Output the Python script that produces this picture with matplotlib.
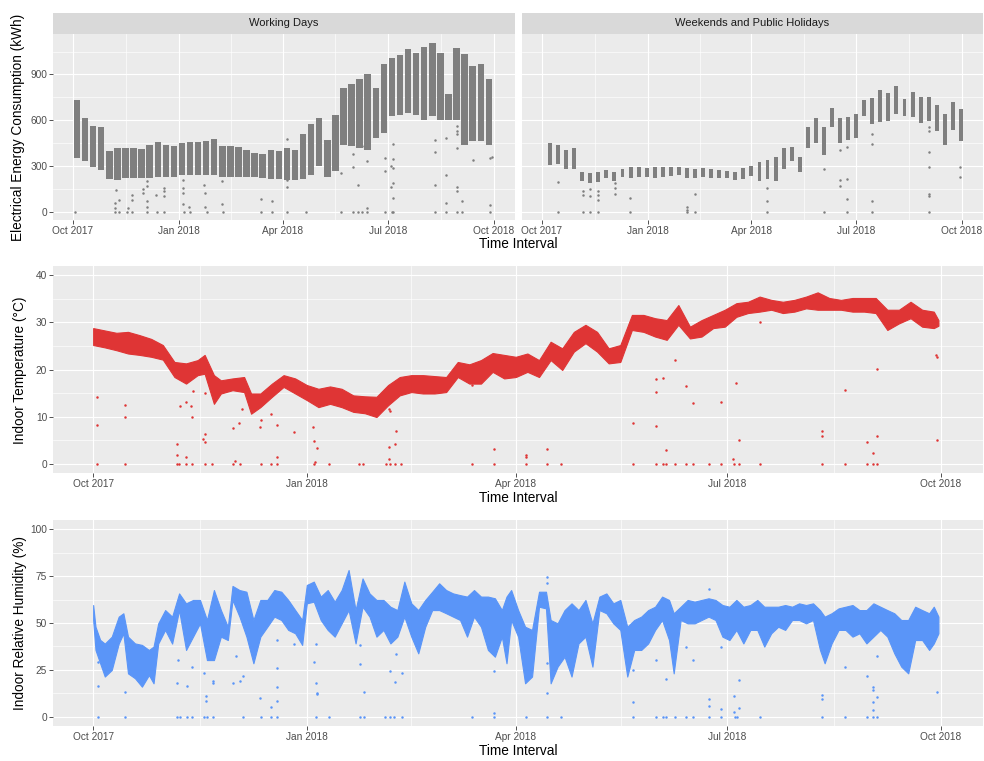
import numpy as np
import pandas as pd
import matplotlib
matplotlib.use('Agg')
import matplotlib.pyplot as plt
import matplotlib.dates as mdates
from matplotlib.patches import Rectangle

plt.rcParams['font.family'] = ['Liberation Sans', 'DejaVu Sans']

START = pd.Timestamp('2017-10-01')

# ---- electrical energy, working days: weekly [low, high] ranges (Mon-Fri) ----
work_week_start = pd.date_range('2017-10-02', periods=52, freq='7D')
work_low = [350, 330, 290, 275, 215, 210, 220, 220, 220, 220, 230, 230, 230,
            241, 241, 241, 241, 241, 230, 230, 224, 224, 224, 220, 215, 215,
            208, 204, 215, 241, 296, 230, 263, 439, 428, 417, 406, 483, 516,
            626, 637, 648, 637, 604, 626, 604, 604, 604, 439, 461, 461, 439]
work_high = [735, 615, 560, 555, 400, 420, 415, 420, 410, 440, 456, 439, 432,
             450, 456, 456, 465, 476, 428, 428, 421, 406, 384, 377, 406, 400,
             417, 406, 509, 575, 615, 472, 636, 812, 838, 871, 900, 812, 966,
             1010, 1027, 1065, 1043, 1080, 1108, 1043, 773, 1071, 1032, 955, 970, 867]
work_out_day = [1.5, 36.2, 36.2, 36.2, 37.3, 40.2, 40.2, 46.6, 47.5, 51.2, 51.2, 51.2,
                60.5, 61.0, 63.9, 63.9, 63.9, 63.9, 63.9, 72.0, 72.6, 78.7, 78.7, 78.7,
                78.7, 95.2, 95.2, 95.7, 95.7, 96.0, 100.9, 101.5, 113.9, 114.8, 114.3,
                116.0, 129.3, 129.3, 130.4, 163.1, 163.1, 172.4, 172.4,
                185.7, 185.7, 185.7, 185.7, 201.6, 232.0, 232.0, 242.4, 242.4, 242.4,
                246.7, 246.7, 250.2, 250.2, 255.1, 255.1, 255.1, 270.4, 270.4, 270.4,
                275.3, 275.3, 276.2, 277.7, 277.7, 277.7, 277.7, 277.7, 277.7,
                313.8, 313.8, 313.8, 313.8, 323.3, 323.3, 323.3, 323.3,
                332.6, 332.6, 332.6, 332.6, 332.6, 332.6, 332.6, 337.2, 337.2, 337.2,
                346.5, 361.5, 361.5, 361.5, 363.3]
work_out_val = [0, 22, 55, 0, 140, 77, 0, 0, 22, 110, 77, 0,
                121, 149, 198, 165, 66, 33, 0, 110, 0, 154, 132, 99,
                0, 209, 154, 121, 50, 0, 33, 0, 176, 119, 33,
                0, 198, 50, 0, 81, 0, 72, 0,
                478, 204, 158, 0, 0, 252, 0, 378, 290, 0,
                171, 0, 428, 0, 334, 22, 0, 351, 268, 0,
                296, 158, 0, 446, 347, 285, 187, 92, 0,
                472, 389, 171, 0, 483, 237, 59, 0,
                560, 531, 509, 417, 158, 132, 0, 450, 72, 0,
                336, 351, 40, 0, 356]

# ---- electrical energy, weekends: [low, high] per Sat-Sun ----
wkend_start = pd.date_range('2017-10-07', periods=52, freq='7D')
wkend_low = [305, 310, 280, 280, 202, 187, 195, 220, 202, 224, 220, 224, 224,
             220, 228, 235, 242, 220, 220, 228, 220, 220, 220, 207, 215,
             235, 202, 213, 198, 279, 334, 257, 417, 448, 373, 558, 448, 470, 483,
             630, 575, 586, 597, 641, 630, 619, 580, 597, 527, 439, 536, 465]
wkend_high = [450, 440, 404, 415, 257, 250, 261, 274, 261, 279, 290, 290, 283,
              294, 290, 290, 294, 283, 279, 285, 279, 274, 268, 261, 285,
              300, 323, 338, 360, 417, 426, 360, 558, 615, 558, 680, 615, 619, 641,
              733, 746, 795, 777, 821, 740, 784, 755, 755, 702, 641, 718, 674]
wkend_out_day = [13.6, 13.6, 35.9, 35.9, 35.9, 42.2, 42.2, 42.2, 48.3, 48.3, 48.3, 48.3,
                 63.3, 63.3, 63.3, 76.6, 76.6, 125.7, 125.7, 125.7, 132.7, 132.7,
                 195.4, 195.4, 195.4, 245.1, 245.1, 258.7, 258.7, 258.7,
                 265.1, 265.1, 265.1, 265.1, 286.7, 286.7, 286.7, 286.7,
                 336.1, 336.1, 336.1, 336.1, 336.1, 336.1, 336.1, 363.6, 363.6]
wkend_out_val = [196, 0, 132, 106, 0, 147, 101, 0, 132, 106, 75, 0,
                 185, 154, 112, 86, 0, 31, 13, 0, 112, 0,
                 154, 66, 0, 277, 0, 404, 207, 169,
                 422, 211, 84, 0, 507, 444, 70, 0,
                 553, 531, 393, 290, 114, 103, 0, 290, 224]

# ---- indoor temperature: band (days after 1 Oct 2017) ----
temp_day = [0, 5, 10, 15, 20, 25, 30, 35, 40, 45, 48, 52, 55, 60, 65, 68, 72, 77,
            82, 87, 92, 97, 102, 107, 112, 117, 122, 127, 132, 137, 142, 147, 152,
            157, 162, 167, 172, 177, 182, 187, 192, 197, 202, 207, 212, 217, 222,
            227, 232, 237, 242, 247, 252, 257, 262, 267, 272, 277, 282, 287, 292,
            297, 302, 307, 312, 317, 322, 327, 332, 337, 342, 347, 352, 357, 362, 364]
temp_high = [28.8, 28.3, 27.8, 28.0, 27.3, 26.5, 25.2, 21.6, 21.3, 22.0, 23.1, 18.8,
             17.7, 18.1, 18.4, 14.9, 14.9, 17.0, 18.8, 18.1, 16.7, 15.9, 16.4, 15.9,
             14.5, 14.3, 14.2, 16.7, 18.4, 18.8, 18.8, 18.6, 18.4, 21.6, 21.1, 22.0,
             23.5, 23.1, 22.7, 23.4, 22.0, 25.9, 24.5, 28.0, 29.5, 28.0, 24.5, 25.2,
             31.6, 31.6, 30.9, 30.5, 33.7, 29.1, 30.5, 31.6, 32.7, 34.1, 34.4, 35.5,
             34.8, 34.4, 34.8, 35.5, 36.4, 35.2, 34.8, 35.2, 35.2, 35.2, 32.7, 32.7,
             34.4, 32.7, 32.3, 30.5]
temp_low = [25.2, 24.7, 24.1, 23.4, 23.1, 22.7, 22.1, 18.4, 17.0, 18.8, 19.1, 12.7,
            14.9, 15.6, 15.2, 10.6, 12.0, 14.2, 16.3, 14.9, 13.5, 12.0, 12.7, 12.0,
            11.0, 10.7, 9.9, 12.4, 14.5, 15.2, 14.9, 14.9, 15.2, 18.4, 17.0, 17.0,
            19.5, 18.1, 18.4, 19.5, 18.4, 22.0, 19.9, 23.8, 25.6, 23.8, 21.3, 21.6,
            28.4, 28.0, 27.0, 26.3, 29.5, 26.6, 27.0, 28.8, 29.1, 31.2, 32.0, 32.3,
            32.7, 32.0, 32.3, 33.0, 32.7, 32.7, 32.7, 32.3, 32.3, 32.0, 28.4, 29.8,
            30.9, 29.1, 28.8, 29.3]
temp_out_day = [1.6, 1.6, 1.6, 13.5, 13.5, 13.5, 35.9, 36.2, 36.2, 37.0, 37.2, 40.0, 40.0,
                40.0, 42.0, 42.4, 42.4, 43.0, 48.0, 47.5, 48.0, 48.0, 48.0, 51.0,
                60.3, 60.3, 61.2, 63.0, 63.4, 64.1, 72.0, 72.3, 72.3, 76.6, 76.6, 79.0,
                79.0, 79.0, 86.4, 94.7, 95.3, 96.2, 95.7, 95.0, 101.7, 114.4, 116.2,
                126.0, 127.2, 127.2, 127.2, 127.7, 127.7, 130.0, 130.3, 130.0, 132.7,
                163.1, 163.1, 172.5, 172.5, 186.4, 186.4, 186.4, 195.4, 195.4, 201.6,
                232.4, 232.4, 242.3, 242.3, 242.3, 242.3, 245.3, 245.3, 246.8, 246.8,
                250.4, 250.4, 255.2, 255.2, 258.5, 258.5, 265.3, 270.3, 270.3, 275.5,
                276.0, 277.0, 278.0, 278.0, 287.0, 287.0, 314.0, 314.0, 314.0,
                323.6, 323.6, 333.1, 333.1, 336.0, 336.0, 337.4, 337.4, 337.4,
                363.0, 363.6, 363.6]
temp_out_val = [14.2, 8.3, 0, 12.4, 10.0, 0, 4.2, 1.9, 0, 0, 12.2, 13.1, 1.4,
                0, 12.2, 9.9, 0, 15.4, 15.0, 5.3, 4.6, 6.2, 0, 0,
                7.5, 0, 0.6, 8.6, 0, 11.5, 7.8, 9.2, 0, 10.6, 0, 8.2,
                1.4, 0, 6.7, 7.8, 4.9, 3.3, 0.4, 0, 0, 0, 0,
                0, 11.5, 3.6, 0.9, 11.2, 0, 4.1, 7.0, 0, 0,
                16.8, 0, 3.0, 0, 1.8, 1.4, 0, 3.1, 0, 0,
                8.7, 0, 17.9, 15.2, 8.0, 0, 18.1, 0, 2.9, 0,
                22.0, 0, 16.5, 0, 12.8, 0, 0, 13.1, 0, 0.9,
                0, 17.2, 5.1, 0, 30.2, 0, 7.0, 5.8, 0,
                15.6, 0, 4.6, 0, 2.2, 0, 20.2, 5.8, 0,
                23.1, 22.7, 5.1]

# ---- indoor relative humidity: band ----
hum_day = [0, 1, 3, 5, 8, 11, 13, 15, 18, 21, 24, 26, 28, 31, 34, 37, 40, 43, 46, 49,
           52, 55, 58, 60, 63, 66, 69, 72, 75, 78, 81, 84, 87, 90, 92, 95, 98, 101,
           104, 107, 110, 113, 116, 119, 122, 125, 128, 131, 134, 137, 140, 143, 146,
           149, 152, 155, 158, 161, 164, 167, 170, 173, 176, 178, 180, 183, 186, 189,
           192, 195, 197, 200, 203, 206, 209, 212, 215, 218, 221, 224, 227, 230, 233,
           236, 239, 242, 245, 248, 250, 253, 256, 259, 262, 265, 268, 271, 274, 277,
           280, 283, 286, 289, 292, 295, 298, 301, 304, 307, 310, 313, 315, 318, 321,
           324, 327, 330, 333, 336, 339, 342, 345, 348, 351, 354, 357, 360, 362, 364]
hum_high = [59.6, 48.0, 41.0, 39.0, 42.7, 53.4, 55.2, 42.7, 39.1, 38.3, 35.6, 37.4,
            49.8, 56.9, 53.4, 65.8, 60.5, 62.3, 62.3, 51.6, 67.6, 56.9, 48.0, 69.8,
            67.6, 66.7, 51.6, 62.3, 62.3, 67.6, 66.7, 62.3, 56.9, 51.6, 70.3, 72.1,
            64.1, 67.6, 61.4, 67.6, 78.3, 56.9, 73.8, 65.8, 62.3, 62.3, 58.7, 56.9,
            72.1, 60.5, 56.9, 62.3, 66.7, 71.2, 67.6, 65.8, 64.9, 64.1, 67.6, 64.1,
            64.1, 63.2, 56.9, 64.1, 67.6, 56.9, 48.0, 46.3, 66.7, 66.7, 51.6, 49.8,
            56.9, 60.5, 56.9, 62.3, 49.8, 64.1, 65.8, 60.5, 62.3, 48.0, 51.6, 53.4,
            56.9, 58.7, 64.1, 62.3, 55.2, 58.7, 62.3, 61.4, 62.3, 63.2, 62.3, 59.6,
            58.7, 62.3, 58.7, 59.6, 62.3, 58.7, 58.7, 58.7, 59.6, 58.7, 60.5, 59.6,
            60.5, 56.9, 53.4, 55.2, 57.8, 58.7, 59.6, 56.9, 56.9, 60.5, 58.7, 56.9,
            55.2, 51.6, 51.6, 58.7, 56.9, 55.2, 58.7, 53.4]
hum_low = [51.6, 35.6, 28.5, 21.4, 24.9, 39.0, 44.5, 23.1, 20.5, 16.0, 22.2, 17.8,
           39.0, 46.3, 39.0, 56.9, 35.6, 42.7, 49.8, 30.2, 30.2, 42.7, 40.9, 62.3,
           53.4, 42.7, 28.5, 42.7, 48.0, 53.4, 51.6, 46.3, 44.5, 38.3, 60.5, 61.4,
           51.6, 46.3, 42.7, 49.8, 56.9, 39.1, 58.7, 53.4, 42.7, 46.3, 39.1, 42.7,
           53.4, 42.7, 33.8, 48.0, 56.9, 56.9, 55.2, 53.4, 51.6, 42.7, 53.4, 48.0,
           35.6, 32.0, 42.7, 28.5, 51.6, 42.7, 17.8, 21.4, 58.7, 57.8, 17.8, 26.7,
           32.0, 21.4, 39.1, 42.7, 26.7, 56.9, 55.2, 49.8, 46.3, 21.4, 35.6, 35.6,
           39.1, 46.3, 51.6, 40.9, 23.1, 51.6, 49.8, 49.8, 51.6, 53.4, 51.6, 42.7,
           40.9, 46.3, 39.1, 46.3, 46.3, 37.4, 44.5, 48.0, 46.3, 51.6, 51.6, 49.8,
           51.6, 35.6, 28.5, 39.1, 46.3, 46.3, 42.7, 44.5, 39.1, 42.7, 46.3, 42.7,
           33.8, 26.7, 23.1, 40.9, 40.9, 35.6, 39.1, 44.5]
hum_out_day = [2.0, 2.1, 2.0, 13.6, 13.6, 36.0, 36.4, 36.0, 37.5, 40.5, 40.2, 42.6, 42.6,
               47.6, 48.8, 48.8, 47.9, 49.0, 51.5, 51.5, 51.5, 60.1, 61.3, 63.1, 64.4,
               64.4, 72.0, 72.3, 76.6, 76.6, 79.2, 79.2, 79.2, 79.2, 79.2, 86.4, 95.0,
               96.0, 96.4, 96.4, 96.1, 96.1, 101.7, 114.8, 114.8, 116.5, 114.8, 116.5,
               125.8, 127.7, 127.7, 127.7, 130.0, 130.5, 129.7, 133.0, 133.0, 163.1,
               172.5, 172.5, 172.5, 186.4, 195.4, 195.4, 195.4, 195.4, 195.4, 201.6,
               232.4, 232.4, 232.4, 242.3, 242.3, 245.3, 246.8, 246.8, 250.4, 255.2,
               255.2, 258.5, 258.5, 265.3, 265.3, 265.3, 265.3, 270.3, 270.3, 270.3,
               276.0, 276.0, 276.4, 277.4, 278.3, 278.3, 287.0, 314.0, 314.0, 314.0,
               323.6, 323.6, 333.1, 333.1, 336.0, 336.0, 336.0, 336.0, 336.0,
               337.4, 337.4, 337.4, 363.6]
hum_out_val = [29.0, 16.5, 0, 13.2, 0, 17.8, 30.0, 0, 0, 16.4, 0, 26.7, 0,
               23.1, 11.0, 8.4, 0, 0, 19.2, 17.8, 0, 18.1, 32.6, 19.2, 21.9,
               0, 9.8, 0, 5.0, 0, 25.8, 16.0, 8.5, 0, 40.9, 38.8, 29.4,
               18.1, 12.8, 12.1, 39.0, 0, 0, 38.3, 27.9, 13.3, 0, 0,
               0, 44.1, 24.6, 0, 18.3, 33.5, 0, 23.1, 0, 0,
               24.4, 1.8, 0, 0, 12.8, 0, 28.8, 74.7, 71.2, 0,
               8.0, 24.9, 0, 0, 30.2, 0, 0, 20.1, 0, 37.4,
               0, 30.2, 0, 9.3, 5.7, 0, 68.1, 3.9, 37.4, 0,
               11.2, 2.7, 0, 0, 19.6, 4.4, 0, 11.6, 9.4, 0,
               26.7, 0, 21.9, 0, 15.7, 14.2, 8.0, 3.6, 0,
               10.7, 32.4, 0, 13.3]

GREY = '#7F7F7F'
RED = '#DF3535'
BLUE = '#5A95F8'

W, H = 984, 761
fig = plt.figure(figsize=(W / 100, H / 100), dpi=100)


def add_ax(x0, y0, x1, y1):
    return fig.add_axes([x0 / W, 1 - y1 / H, (x1 - x0) / W, (y1 - y0) / H])


def days(d):
    return mdates.date2num(START + pd.to_timedelta(np.asarray(d, dtype=float), unit='D'))


major = mdates.date2num(pd.to_datetime(['2017-10-01', '2018-01-01', '2018-04-01',
                                        '2018-07-01', '2018-10-01']))
minor = (major[:-1] + major[1:]) / 2
xlim = days([-17.3, 383.2])


def style(ax, ylim, yticks, yminor, show_y=True):
    ax.set_facecolor('#EBEBEB')
    for s in ax.spines.values():
        s.set_visible(False)
    ax.set_xlim(*xlim)
    ax.set_ylim(*ylim)
    ax.set_xticks(major)
    ax.set_xticks(minor, minor=True)
    ax.set_xticklabels(['Oct 2017', 'Jan 2018', 'Apr 2018', 'Jul 2018', 'Oct 2018'])
    ax.set_yticks(yticks)
    ax.set_yticks(yminor, minor=True)
    ax.grid(which='major', color='white', lw=0.85)
    ax.grid(which='minor', color='white', lw=0.45)
    ax.set_axisbelow(True)
    ax.tick_params(which='major', length=2.7, width=0.6, color='#333333',
                   labelsize=7.3, labelcolor='#4D4D4D', pad=1.5)
    ax.tick_params(which='minor', length=0)
    if not show_y:
        ax.tick_params(axis='y', which='both', length=0, labelleft=False)


def strip(x0, x1, label):
    sax = add_ax(x0, 13, x1, 34)
    sax.set_xlim(0, 1)
    sax.set_ylim(0, 1)
    sax.axis('off')
    sax.add_patch(Rectangle((0, 0), 1, 1, color='#D9D9D9', transform=sax.transAxes))
    sax.text(0.5, 0.5, label, ha='center', va='center', fontsize=8, color='#1A1A1A')


# ---- top row: energy ----
e_ylim = (-55.5, 1165.5)
ax1 = add_ax(53, 34, 515, 220)
style(ax1, e_ylim, [0, 300, 600, 900], [150, 450, 750, 1050])
ws = mdates.date2num(work_week_start)
ax1.bar(ws + 2.5, np.subtract(work_high, work_low), bottom=work_low, width=5.6,
        color=GREY, lw=0)
ax1.scatter(days(work_out_day), work_out_val, s=3.2, color=GREY, lw=0)
strip(53, 515, 'Working Days')

ax2 = add_ax(522, 34, 983, 220)
style(ax2, e_ylim, [0, 300, 600, 900], [150, 450, 750, 1050], show_y=False)
we = mdates.date2num(wkend_start)
ax2.bar(we + 1.0, np.subtract(wkend_high, wkend_low), bottom=wkend_low, width=3.4,
        color=GREY, lw=0)
ax2.scatter(days(wkend_out_day), wkend_out_val, s=3.2, color=GREY, lw=0)
strip(522, 983, 'Weekends and Public Holidays')

fig.text(18 / W, 1 - 127 / H, 'Electrical Energy Consumption (kWh)', rotation=90,
         ha='center', va='center', fontsize=9.8)
fig.text(518 / W, 1 - 244 / H, 'Time Interval', ha='center', va='center', fontsize=9.8)

# ---- middle: temperature ----
ax3 = add_ax(53, 266, 983, 473)
style(ax3, (-2, 42), [0, 10, 20, 30, 40], [5, 15, 25, 35])
ax3.fill_between(days(temp_day), temp_low, temp_high, color=RED, lw=0.8, edgecolor=RED)
ax3.scatter(days(temp_out_day), temp_out_val, s=3.2, color=RED, lw=0)
fig.text(20 / W, 1 - 370 / H, 'Indoor Temperature (°C)', rotation=90,
         ha='center', va='center', fontsize=9.8)
fig.text(518 / W, 1 - 498 / H, 'Time Interval', ha='center', va='center', fontsize=9.8)

# ---- bottom: humidity ----
ax4 = add_ax(53, 520, 983, 726)
style(ax4, (-5, 105), [0, 25, 50, 75, 100], [12.5, 37.5, 62.5, 87.5])
ax4.fill_between(days(hum_day), hum_low, hum_high, color=BLUE, lw=0.8, edgecolor=BLUE)
ax4.scatter(days(hum_out_day), hum_out_val, s=3.2, color=BLUE, lw=0)
fig.text(20 / W, 1 - 623 / H, 'Indoor Relative Humidity (%)', rotation=90,
         ha='center', va='center', fontsize=9.8)
fig.text(518 / W, 1 - 751 / H, 'Time Interval', ha='center', va='center', fontsize=9.8)

fig.savefig('out.png', dpi=100, facecolor='white')
